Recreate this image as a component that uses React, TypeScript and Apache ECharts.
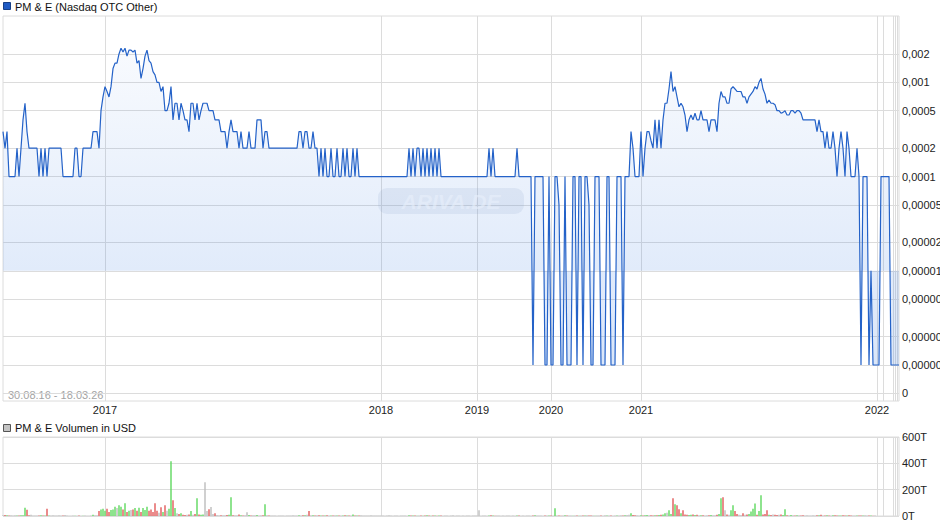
import React, { useEffect, useRef } from "react";
import * as echarts from "echarts";

// ---------- data ----------
const years = [2016, 2017, 2018, 2019, 2020, 2021, 2022, 2023, 2024, 2025, 2026];
const labelledYears = [2017, 2018, 2019, 2020, 2021, 2022];

// price (USD) per trading point, grouped by year
const p2016 = [
  0.0003, 0.0002, 0.0003, 0.0001, 0.0001, 0.0001, 0.0001, 0.0002, 0.0001, 0.0002,
  0.0004, 0.0006, 0.0003, 0.0002, 0.0002, 0.0002, 0.0002, 0.0002, 0.0001, 0.0002,
  0.0001, 0.0002, 0.0001, 0.0002, 0.0002, 0.0002, 0.0002, 0.0002, 0.0002, 0.0002,
  0.0001, 0.0001, 0.0001, 0.0001, 0.0001, 0.0001, 0.0002, 0.0002, 0.0001, 0.0001,
  0.0002, 0.0002, 0.0002, 0.0002, 0.0002, 0.0003, 0.0003, 0.0003, 0.0002, 0.0005,
  0.0007,
];
const p2017 = [
  0.0009, 0.0008, 0.0007, 0.0009, 0.0014, 0.0016, 0.0016, 0.002, 0.0023, 0.0021,
  0.0023, 0.0019, 0.0022, 0.0022, 0.0021, 0.0022, 0.0016, 0.0017, 0.0011, 0.0014,
  0.0019, 0.0022, 0.0017, 0.0016, 0.0013, 0.0012, 0.001, 0.001, 0.0008, 0.0009,
  0.0005, 0.0005, 0.0006, 0.0009, 0.0004, 0.0006, 0.0006, 0.0004, 0.0006, 0.0005,
  0.0004, 0.0004, 0.0003, 0.0006, 0.0006, 0.0004, 0.0006, 0.0004, 0.0005, 0.0006,
  0.0006, 0.0006, 0.0005, 0.0005, 0.0005, 0.0004, 0.0004, 0.0004, 0.0003, 0.0003,
  0.0003, 0.0002, 0.0003, 0.0004, 0.0003, 0.0003, 0.0003, 0.0002, 0.0003, 0.0002,
  0.0002, 0.0002, 0.0003, 0.0002, 0.0002, 0.0002, 0.0004, 0.0004, 0.0004, 0.0002,
  0.0003, 0.0003, 0.0002, 0.0002, 0.0002, 0.0002, 0.0002, 0.0002, 0.0002, 0.0002,
  0.0002, 0.0002, 0.0002, 0.0002, 0.0002, 0.0002, 0.0002, 0.0003, 0.0003, 0.0002,
  0.0003, 0.0003, 0.0002, 0.0002, 0.0003, 0.0002, 0.0002, 0.0001, 0.0002, 0.0001,
  0.0002, 0.0001, 0.0001, 0.0002, 0.0001, 0.0001, 0.0002, 0.0001, 0.0001, 0.0002,
  0.0001, 0.0002, 0.0001, 0.0001, 0.0002, 0.0001, 0.0002, 0.0001, 0.0001, 0.0001,
  0.0001, 0.0001, 0.0001, 0.0001, 0.0001, 0.0001, 0.0001, 0.0001,
];
const p2018 = [
  0.0001, 0.0001, 0.0001, 0.0001, 0.0001, 0.0001, 0.0001, 0.0001, 0.0001, 0.0001,
  0.0001, 0.0001, 0.0001, 0.0001, 0.0002, 0.0001, 0.0002, 0.0001, 0.0002, 0.0002,
  0.0001, 0.0002, 0.0001, 0.0002, 0.0001, 0.0002, 0.0001, 0.0002, 0.0001, 0.0002,
  0.0001, 0.0001, 0.0001, 0.0001, 0.0001, 0.0001, 0.0001, 0.0001, 0.0001, 0.0001,
  0.0001, 0.0001, 0.0001, 0.0001, 0.0001, 0.0001, 0.0001, 0.0001,
];
const p2019 = [
  0.0001, 0.0001, 0.0001, 0.0001, 0.0001, 0.0001, 0.0002, 0.0001, 0.0002, 0.0001,
  0.0001, 0.0001, 0.0001, 0.0001, 0.0001, 0.0001, 0.0001, 0.0001, 0.0001, 0.0001,
  0.0002, 0.0001, 0.0001, 0.0001, 0.0001, 0.0001, 0.0001, 0.0001, 0.000001, 0.0001,
  0.0001, 0.0001, 0.0001, 0.0001, 0.000001, 0.000001, 0.0001,
];
const p2020 = [
  0.000001, 0.000001, 0.0001, 0.0001, 0.00005, 0.000001, 0.000001, 0.0001, 0.000001, 0.000001,
  0.000001, 0.0001, 0.0001, 0.000001, 0.0001, 0.0001, 0.000001, 0.0001, 0.0001, 0.00005,
  0.000001, 0.000001, 0.0001, 0.0001, 0.0001, 0.000001, 0.000001, 0.000001, 0.0001, 0.0001,
  0.000001, 0.000001, 0.000001, 0.0001, 0.0001, 0.0001, 0.000001, 0.0001, 0.0001, 0.0001,
  0.0003, 0.0002, 0.0001, 0.0001, 0.0001,
];
const p2021 = [
  0.0003, 0.0001, 0.0002, 0.0003, 0.0003, 0.00024, 0.0002, 0.0004, 0.0002, 0.0004,
  0.0002, 0.0004, 0.0006, 0.0006, 0.00085, 0.0013, 0.0008, 0.0009, 0.0007, 0.00055,
  0.0006, 0.00055, 0.00045, 0.0003, 0.0004, 0.00045, 0.0004, 0.00047, 0.0004, 0.0004,
  0.0005, 0.0004, 0.0004, 0.0004, 0.0003, 0.0004, 0.0004, 0.0004, 0.0003, 0.0006,
  0.0008, 0.0007, 0.0007, 0.0006, 0.0006, 0.00085, 0.0009, 0.00085, 0.0008, 0.0008,
  0.0008, 0.0007, 0.0007, 0.0006, 0.0007, 0.00075, 0.0008, 0.0009, 0.00085, 0.001,
  0.0011, 0.00085, 0.00075, 0.0006, 0.00065, 0.0006, 0.0006, 0.00058, 0.0005, 0.0005,
  0.00047, 0.00048, 0.0005, 0.00045, 0.00045, 0.0005, 0.0005, 0.00047, 0.0005, 0.0005,
  0.00047, 0.0004, 0.0004, 0.0004, 0.0004, 0.0004, 0.0004, 0.0004, 0.0003, 0.0004,
  0.0003, 0.0003, 0.0002, 0.0003, 0.0002, 0.0002, 0.0003, 0.0002, 0.0001, 0.0002,
  0.0003, 0.0002, 0.0001, 0.0003, 0.0002, 0.0001, 0.0001, 0.0001, 0.0002, 0.0001,
  0.000001, 0.0001, 0.0001, 0.0001, 0.000001, 0.00001, 0.000001, 0.000001,
];
const p2022 = [0.000001, 0.000001, 0.0001];
const p2023 = [0.0001, 0.0001, 0.0001, 0.0001, 0.000001];
const p2024 = [0.000001];
const p2025 = [0.000001];
const p2026 = [0.000001, 0.000001];

// volume in thousand USD (T) per trading point, grouped by year
const v2016 = [
  6, 8, 5, 4, 6, 3, 5, 4, 4, 5,
  6, 63, 48, 5, 10, 4, 3, 4, 3, 5,
  4, 3, 56, 4, 3, 5, 4, 3, 6, 4,
  3, 8, 3, 2, 2, 3, 2, 2, 3, 2,
  2, 3, 2, 2, 4, 10, 6, 5, 38, 50,
  56,
];
const v2017 = [
  40, 55, 30, 45, 50, 71, 60, 81, 71, 50,
  96, 30, 40, 45, 50, 60, 40, 63, 30, 60,
  45, 71, 40, 50, 30, 96, 40, 25, 66, 30,
  81, 40, 56, 415, 119, 60, 20, 15, 20, 10,
  8, 10, 12, 38, 10, 15, 134, 12, 10, 12,
  256, 38, 51, 68, 15, 20, 8, 6, 5, 6,
  5, 8, 10, 142, 6, 5, 6, 12, 5, 4,
  6, 28, 8, 4, 5, 6, 8, 4, 5, 6,
  89, 5, 4, 3, 4, 3, 2, 3, 4, 3,
  2, 3, 4, 3, 5, 3, 4, 5, 4, 5,
  6, 10, 38, 5, 6, 4, 5, 6, 4, 4,
  3, 5, 3, 4, 3, 5, 4, 3, 4, 3,
  5, 4, 3, 4, 12, 3, 4, 3, 5, 4,
  3, 4, 3, 5, 3, 4, 3, 4,
];
const v2018 = [
  3, 4, 2, 3, 5, 3, 2, 4, 3, 2,
  3, 4, 3, 2, 5, 3, 4, 3, 2, 3,
  4, 2, 3, 5, 3, 2, 3, 4, 2, 3,
  3, 2, 4, 3, 2, 3, 5, 2, 3, 4,
  2, 3, 2, 4, 3, 2, 3, 4,
];
const v2019 = [
  3, 43, 2, 3, 4, 2, 3, 5, 3, 2,
  3, 4, 2, 3, 2, 4, 3, 2, 3, 2,
  4, 3, 2, 3, 2, 3, 4, 2, 3, 5,
  3, 4, 3, 2, 3, 4, 3,
];
const v2020 = [
  3, 2, 58, 3, 4, 2, 3, 5, 3, 4,
  3, 2, 4, 3, 2, 3, 4, 3, 5, 3,
  4, 3, 2, 3, 4, 3, 2, 5, 3, 4,
  3, 2, 3, 4, 3, 5, 4, 6, 8, 10,
  20, 8, 6, 5, 4,
];
const v2021 = [
  5, 4, 6, 8, 5, 6, 4, 5, 6, 8,
  10, 12, 20, 25, 43, 15, 134, 89, 81, 51,
  20, 43, 12, 10, 8, 10, 12, 8, 10, 6,
  5, 6, 4, 5, 6, 8, 5, 6, 10, 15,
  134, 142, 43, 12, 10, 43, 81, 38, 15, 10,
  8, 20, 10, 12, 15, 35, 56, 94, 10, 38,
  157, 12, 15, 43, 10, 8, 12, 10, 8, 10,
  12, 8, 51, 6, 5, 8, 5, 4, 6, 5,
  4, 5, 4, 6, 3, 4, 5, 4, 6, 5,
  10, 4, 3, 5, 4, 3, 5, 6, 4, 3,
  4, 5, 3, 4, 5, 3, 4, 3, 4, 3,
  4, 3, 5, 3, 4, 3, 2, 3,
];
const v2022 = [0, 0, 0];
const v2023 = [0, 0, 0, 0, 0];
const v2024 = [0];
const v2025 = [0];
const v2026 = [0, 0];

const priceTicks = [0.002, 0.001, 0.0005, 0.0002, 0.0001, 0.00005, 0.00002, 0.00001, 0.000005, 0.000002, 0.000001, 0.0000005];
const priceTickLabels = ["0,002", "0,001", "0,0005", "0,0002", "0,0001", "0,00005", "0,00002", "0,00001", "0,000005", "0,000002", "0,000001", "0"];
const priceAxisMin = 4.15e-7;
const priceAxisMax = 0.00506;
const areaBase = 0.00001;
const volumeMax = 600;
const volumeStep = 200;

const FONT = '"Liberation Sans", Arial, Helvetica, sans-serif';

export default function App() {
  const ref = useRef<HTMLDivElement>(null);

  useEffect(() => {
    if (!ref.current) return;
    const chart = echarts.init(ref.current, null, { renderer: "svg" });

    const priceByYear = [p2016, p2017, p2018, p2019, p2020, p2021, p2022, p2023, p2024, p2025, p2026];
    const volByYear = [v2016, v2017, v2018, v2019, v2020, v2021, v2022, v2023, v2024, v2025, v2026];

    const categories: string[] = [];
    const prices: number[] = [];
    const volumes: number[] = [];
    const yearStarts = new Set<number>();
    const labelStarts = new Set<number>();
    const problems: string[] = [];
    years.forEach((y, yi) => {
      const ps = priceByYear[yi];
      const vs = volByYear[yi];
      if (ps.length !== vs.length) problems.push(`${y}: ${ps.length}/${vs.length}`);
      if (y > years[0]) yearStarts.add(categories.length);
      if (labelledYears.includes(y)) labelStarts.add(categories.length);
      ps.forEach((p, i) => {
        categories.push(`${y}-${i + 1}`);
        prices.push(p);
        volumes.push(vs[i] ?? 0);
      });
    });

    const logTicks = priceTicks.map((v) => Math.log10(v));
    const priceLabel = (v: number) => {
      let bi = 0;
      let bd = Infinity;
      logTicks.forEach((t, i) => {
        const d = Math.abs(t - v);
        if (d < bd) {
          bd = d;
          bi = i;
        }
      });
      return priceTickLabels[bi];
    };

    const up = "#5ed85e";
    const down = "#e25a5a";
    const flat = "#bcbcbc";
    const barData = volumes.map((v, i) => {
      const prev = i > 0 ? prices[i - 1] : prices[i];
      const c = prices[i] > prev ? up : prices[i] < prev ? down : flat;
      return { value: v, itemStyle: { color: c } };
    });

    const gridColor = "#dcdcdc";
    const textColor = "#222";

    const option: any = {
      animation: false,
      backgroundColor: "#ffffff",
      textStyle: { fontFamily: FONT },
      grid: [
        { left: 3, top: 16, width: 896, height: 385, outerBoundsMode: "none", containLabel: false, show: true, borderColor: gridColor, borderWidth: 1, backgroundColor: "transparent" },
        { left: 3, top: 437, width: 896, height: 79, outerBoundsMode: "none", containLabel: false, show: true, borderColor: gridColor, borderWidth: 1, backgroundColor: "transparent" },
      ],
      xAxis: [
        {
          type: "category",
          gridIndex: 0,
          data: categories,
          boundaryGap: false,
          axisLine: { show: false },
          axisTick: { show: false },
          axisLabel: {
            interval: (index: number) => labelStarts.has(index),
            formatter: (value: string) => value.split("-")[0],
            color: textColor,
            fontSize: 11,
            fontFamily: FONT,
            margin: 3,
          },
          splitLine: {
            show: true,
            interval: (index: number) => yearStarts.has(index),
            lineStyle: { color: gridColor, width: 1 },
          },
        },
        {
          type: "category",
          gridIndex: 1,
          data: categories,
          boundaryGap: false,
          axisLine: { show: false },
          axisTick: { show: false },
          axisLabel: { show: false },
          splitLine: {
            show: true,
            interval: (index: number) => yearStarts.has(index),
            lineStyle: { color: gridColor, width: 1 },
          },
        },
      ],
      yAxis: [
        {
          type: "value",
          gridIndex: 0,
          position: "right",
          min: Math.log10(priceAxisMin),
          max: Math.log10(priceAxisMax),
          axisLine: { show: false },
          axisTick: { show: false, customValues: logTicks },
          axisLabel: {
            customValues: logTicks,
            formatter: priceLabel,
            color: textColor,
            fontSize: 11,
            fontFamily: FONT,
            margin: 3,
          },
          splitLine: { show: true, lineStyle: { color: gridColor, width: 1 } },
        },
        {
          type: "value",
          gridIndex: 1,
          position: "right",
          min: 0,
          max: volumeMax,
          interval: volumeStep,
          axisLine: { show: false },
          axisTick: { show: false },
          axisLabel: {
            formatter: (v: number) => `${v}T`,
            color: textColor,
            fontSize: 11,
            fontFamily: FONT,
            margin: 3,
          },
          splitLine: { show: true, lineStyle: { color: gridColor, width: 1 } },
        },
      ],
      series: [
        {
          type: "bar",
          xAxisIndex: 1,
          yAxisIndex: 1,
          data: barData,
          barWidth: 1.4,
          barGap: "0%",
        },
        {
          type: "line",
          xAxisIndex: 0,
          yAxisIndex: 0,
          data: prices.map((p) => Math.log10(p)),
          symbol: "none",
          showSymbol: false,
          smooth: false,
          z: 3,
          lineStyle: { color: "#2462c8", width: 1.2 },
          areaStyle: {
            origin: Math.log10(areaBase),
            color: new echarts.graphic.LinearGradient(0, 0, 0, 1, [
              { offset: 0, color: "rgba(60,125,225,0.05)" },
              { offset: 0.7, color: "rgba(60,125,225,0.22)" },
              { offset: 1, color: "rgba(60,125,225,0.27)" },
            ]),
          },
        },
      ],
      graphic: [
        {
          type: "rect",
          shape: { x: 3.5, y: 2.5, width: 7, height: 7 },
          style: { fill: "#1f5bc4", stroke: "#173f86", lineWidth: 1 },
        },
        {
          type: "text",
          x: 15,
          y: 6.5,
          style: { text: "PM & E (Nasdaq OTC Other)", fill: "#111", font: `11px ${FONT}`, verticalAlign: "middle" },
        },
        {
          type: "rect",
          shape: { x: 3.5, y: 424.5, width: 7, height: 7 },
          style: { fill: "#c4c4c4", stroke: "#555", lineWidth: 1 },
        },
        {
          type: "text",
          x: 15,
          y: 428,
          style: { text: "PM & E Volumen in USD", fill: "#111", font: `11px ${FONT}`, verticalAlign: "middle" },
        },
        {
          type: "text",
          x: 8,
          y: 394.5,
          style: { text: "30.08.16 - 18.03.26", fill: "#a3a3a3", font: `11px ${FONT}`, verticalAlign: "middle" },
        },
        {
          type: "rect",
          z: 1,
          shape: { x: 378, y: 188, width: 146, height: 26, r: 9 },
          style: { fill: "rgba(150,170,200,0.16)" },
        },
        {
          type: "text",
          z: 1,
          x: 451,
          y: 201,
          style: {
            text: "ARIVA.DE",
            fill: "rgba(255,255,255,0.6)",
            font: `italic bold 21px ${FONT}`,
            align: "center",
            verticalAlign: "middle",
          },
        },
        ...(problems.length
          ? [{ type: "text", x: 200, y: 300, style: { text: problems.join(" | "), fill: "red", font: "14px sans-serif" } }]
          : []),
      ],
    };

    chart.setOption(option);
    return () => chart.dispose();
  }, []);

  return <div ref={ref} style={{ position: "fixed", left: 0, top: 0, width: 940, height: 526 }} />;
}
